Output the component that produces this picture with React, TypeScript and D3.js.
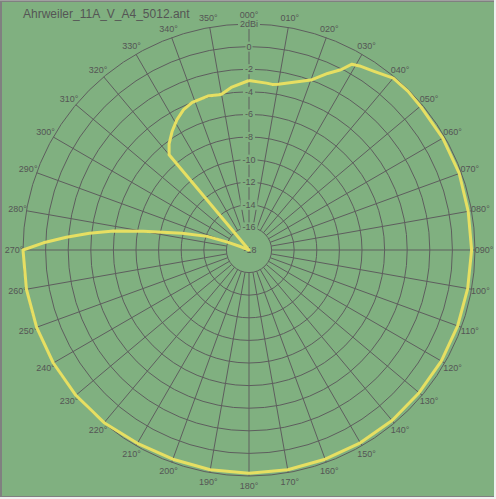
import React from "react";
import * as d3 from "d3";

const title = "Ahrweiler_11A_V_A4_5012.ant";
const ringValues = [-16, -14, -12, -10, -8, -6, -4, -2, 0, 2];
const ringLabels = ["-16", "-14", "-12", "-10", "-8", "-6", "-4", "-2", "0", "2dBi"];
const centerLabel = "-18";
const angleTicks = d3.range(0, 360, 10);

const patternAngles = [
  0, 6, 8, 10, 20, 24, 27, 29, 31, 35, 40, 45, 50, 60, 70, 80, 90, 100, 110, 120, 130, 140, 150, 160, 170, 180,
  190, 200, 210, 220, 230, 240, 250, 260, 270, 272, 274, 276, 278, 280, 284, 288, 290, 292, 294, 300, 310, 319,
  320, 323, 327, 331, 335, 339, 345, 349, 350, 354, 360,
];
const patternGain = [
  -3.0, -3.15, -3.2, -3.1, -2.0, -0.9, -0.1, 0.8, 1.0, 1.3, 1.85, 1.88, 1.8, 1.8, 1.8, 1.7, 1.7, 1.65, 1.65, 1.65,
  1.65, 1.7, 1.7, 1.7, 1.75, 1.75, 1.75, 1.7, 1.75, 1.95, 2.0, 2.05, 2.0, 2.0, 2.0, 0.2, -1.8, -3.8, -5.9, -8.5,
  -11.9, -14.1, -15.9, -17.3, -19, -25, -25, -25, -7.0, -6.25, -5.5, -4.83, -4.3, -4.0, -3.9, -4.0, -4.0, -3.5, -3.0,
];

const W = 496;
const H = 499;
const cx = 249;
const cy = 250;
const R = 226;
const minDb = -18;
const maxDb = 2;

const bg = "rgb(128,176,128)";
const gridColor = "#5e5e5e";
const textColor = "#555555";
const traceColor = "#e6df62";

export default function App() {
  const r = d3.scaleLinear().domain([minDb, maxDb]).range([0, R]).clamp(true);
  const pt = (deg: number, rad: number): [number, number] => {
    const a = (deg * Math.PI) / 180;
    return [cx + rad * Math.sin(a), cy - rad * Math.cos(a)];
  };
  const line = d3
    .lineRadial<number>()
    .angle((_, i) => (patternAngles[i] * Math.PI) / 180)
    .radius((v) => r(v));
  const tracePath = line(patternGain) || "";
  const innerR = r(-16);
  const fontFam = "'Liberation Sans', Arial, sans-serif";

  return (
    <svg width={W} height={H} style={{ position: "absolute", left: 0, top: 0 }}>
      <rect x={0} y={0} width={W} height={H} fill="#f0f0f0" />
      <rect x={0} y={0} width={494} height={497} fill="#808080" />
      <rect x={2} y={2} width={492} height={494} fill={bg} />
      <rect x={0} y={0} width={494} height={1} fill="#a0a0a0" />
      <text x={23} y={18} fontSize={12} fill={textColor} fontFamily={fontFam}>
        {title}
      </text>
      <g>
        {ringValues.map((v) => (
          <circle key={v} cx={cx} cy={cy} r={r(v)} fill="none" stroke={gridColor} strokeWidth={1} />
        ))}
        {angleTicks.map((a) => {
          const [x1, y1] = pt(a, innerR);
          const [x2, y2] = pt(a, R);
          return <line key={a} x1={x1} y1={y1} x2={x2} y2={y2} stroke={gridColor} strokeWidth={1} />;
        })}
      </g>
      {ringValues.map((v, i) => {
        const y = cy - r(v);
        const w = ringLabels[i].length * 5 + 2;
        return (
          <g key={"rl" + v}>
            <rect x={cx - w / 2} y={y - 5} width={w} height={10} fill={bg} />
            <text
              x={cx}
              y={y}
              textAnchor="middle"
              dominantBaseline="central"
              fontSize={9}
              fill={textColor}
              fontFamily={fontFam}
            >
              {ringLabels[i]}
            </text>
          </g>
        );
      })}
      <text x={cx + 1} y={cy} textAnchor="middle" dominantBaseline="central" fontSize={9} fill={textColor} fontFamily={fontFam}>
        {centerLabel}
      </text>
      {angleTicks.map((a) => {
        const [px, py] = pt(a, R);
        const rad = (a * Math.PI) / 180;
        const tx = px + Math.sin(rad) * 9;
        const ty = py - Math.cos(rad) * 9.5;
        return (
          <text
            key={"al" + a}
            x={tx}
            y={ty}
            textAnchor="middle"
            dominantBaseline="central"
            fontSize={9}
            fill={textColor}
            fontFamily={fontFam}
          >
            {d3.format("03d")(a) + "°"}
          </text>
        );
      })}
      <path
        d={tracePath}
        transform={`translate(${cx},${cy})`}
        fill="none"
        stroke={traceColor}
        strokeWidth={3}
        strokeLinejoin="round"
      />
    </svg>
  );
}
